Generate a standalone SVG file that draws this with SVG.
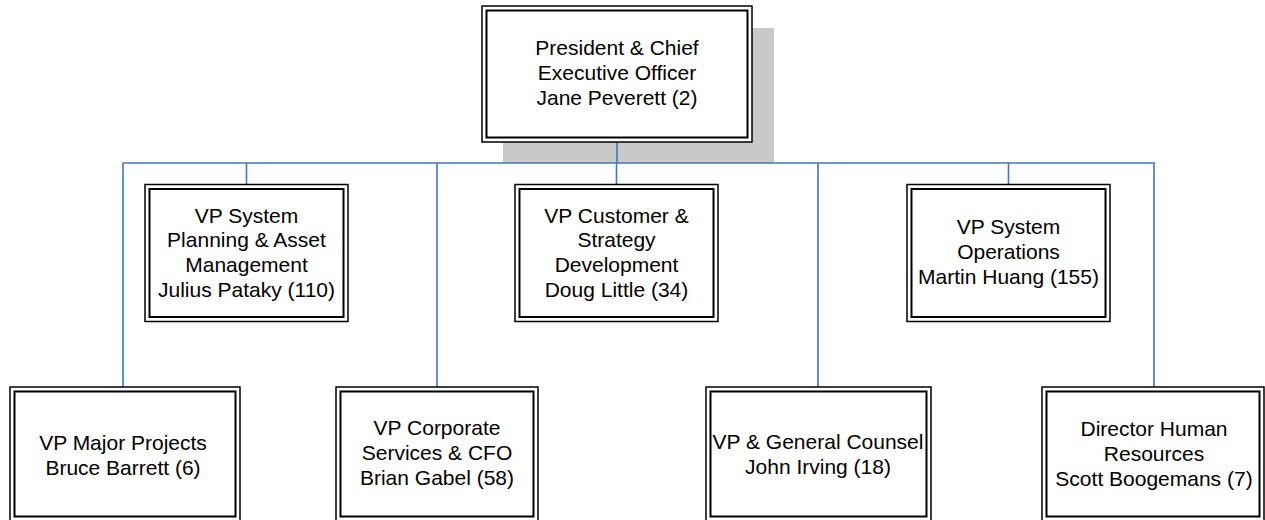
<svg xmlns="http://www.w3.org/2000/svg" width="1265" height="520" viewBox="0 0 1265 520">
  <style>
    .outer { fill: #ffffff; stroke: #000000; stroke-width: 1.5; }
    .inner { fill: none; stroke: #000000; stroke-width: 2; }
    .shadow { fill: #c9c9c9; stroke: none; }
    .link { fill: none; stroke: #4472c4; stroke-width: 1.6; }
    .label { font-family: "Liberation Sans", Arial, sans-serif; font-size: 21px; fill: #000000; text-anchor: middle; }
  </style>

  <!-- drop shadow behind the CEO box -->
  <rect class="shadow" x="503" y="28" width="271" height="135"/>

  <!-- reporting lines -->
  <g id="connectors">
    <line class="link" x1="123" y1="163" x2="1155" y2="163"/>
    <line class="link" x1="617" y1="142" x2="617" y2="163"/>
    <line class="link" x1="246.5" y1="163" x2="246.5" y2="185"/>
    <line class="link" x1="616.5" y1="163" x2="616.5" y2="185"/>
    <line class="link" x1="1008.5" y1="163" x2="1008.5" y2="185"/>
    <line class="link" x1="123" y1="163" x2="123" y2="387"/>
    <line class="link" x1="437" y1="163" x2="437" y2="387"/>
    <line class="link" x1="818" y1="163" x2="818" y2="387"/>
    <line class="link" x1="1154" y1="163" x2="1154" y2="387"/>
  </g>

  <g id="ceo">
    <rect class="outer" x="482" y="6" width="270" height="136"/>
    <rect class="inner" x="486.5" y="10.5" width="261" height="127"/>
    <text class="label" x="617" y="55">President &amp; Chief</text>
    <text class="label" x="617" y="80">Executive Officer</text>
    <text class="label" x="617" y="105">Jane Peverett (2)</text>
  </g>

  <g id="vp-planning">
    <rect class="outer" x="145" y="184.5" width="203" height="137"/>
    <rect class="inner" x="149.5" y="189" width="194" height="128"/>
    <text class="label" x="246.5" y="222.5">VP System</text>
    <text class="label" x="246.5" y="247.2">Planning &amp; Asset</text>
    <text class="label" x="246.5" y="272">Management</text>
    <text class="label" x="246.5" y="296.7">Julius Pataky (110)</text>
  </g>

  <g id="vp-customer">
    <rect class="outer" x="515" y="184.5" width="203" height="137"/>
    <rect class="inner" x="519.5" y="189" width="194" height="128"/>
    <text class="label" x="616.5" y="222.5">VP Customer &amp;</text>
    <text class="label" x="616.5" y="247.2">Strategy</text>
    <text class="label" x="616.5" y="272">Development</text>
    <text class="label" x="616.5" y="296.7">Doug Little (34)</text>
  </g>

  <g id="vp-operations">
    <rect class="outer" x="907" y="184.5" width="203" height="137"/>
    <rect class="inner" x="911.5" y="189" width="194" height="128"/>
    <text class="label" x="1008.5" y="234">VP System</text>
    <text class="label" x="1008.5" y="259">Operations</text>
    <text class="label" x="1008.5" y="284">Martin Huang (155)</text>
  </g>

  <g id="vp-projects">
    <rect class="outer" x="10" y="387" width="230" height="137"/>
    <rect class="inner" x="14.5" y="391.5" width="221" height="125"/>
    <text class="label" x="123" y="450">VP Major Projects</text>
    <text class="label" x="123" y="475">Bruce Barrett (6)</text>
  </g>

  <g id="vp-corporate">
    <rect class="outer" x="336" y="387" width="202" height="137"/>
    <rect class="inner" x="340.5" y="391.5" width="193" height="125"/>
    <text class="label" x="437" y="435">VP Corporate</text>
    <text class="label" x="437" y="460">Services &amp; CFO</text>
    <text class="label" x="437" y="485">Brian Gabel (58)</text>
  </g>

  <g id="vp-counsel">
    <rect class="outer" x="706" y="387" width="225" height="137"/>
    <rect class="inner" x="710.5" y="391.5" width="216" height="125"/>
    <text class="label" x="818" y="449">VP &amp; General Counsel</text>
    <text class="label" x="818" y="474">John Irving (18)</text>
  </g>

  <g id="hr-director">
    <rect class="outer" x="1042" y="387" width="222" height="137"/>
    <rect class="inner" x="1046.5" y="391.5" width="213" height="125"/>
    <text class="label" x="1154" y="436">Director Human</text>
    <text class="label" x="1154" y="461">Resources</text>
    <text class="label" x="1154" y="486">Scott Boogemans (7)</text>
  </g>
</svg>
